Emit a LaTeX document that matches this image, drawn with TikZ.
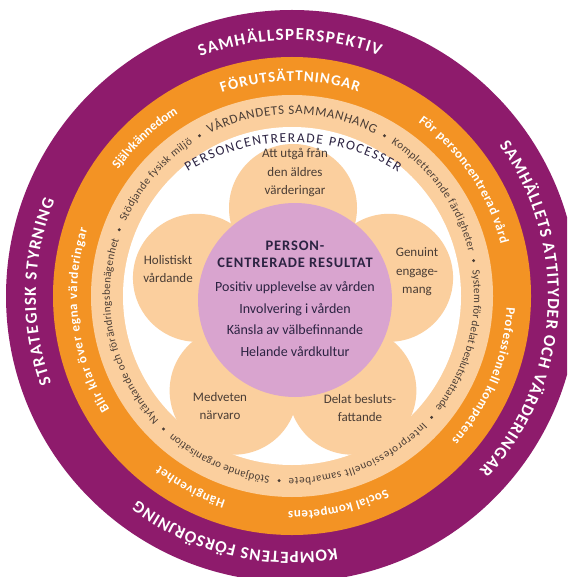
\documentclass[tikz,border=0pt]{standalone}
\usepackage{fontspec}
\setmainfont{Carlito}
\usepackage{xcolor}
\definecolor{cRing}{HTML}{8E1B6C}
\definecolor{cBand}{HTML}{F39324}
\definecolor{cPeach}{HTML}{FBCF9E}
\definecolor{cCore}{HTML}{D9A4CF}
\definecolor{cInk}{HTML}{4A3D35}
\definecolor{cNavy}{HTML}{2C2342}
\usepackage{tikz}
\usetikzlibrary{calc,decorations.text}
\newcommand\fRing{\fontsize{17}{17}\selectfont\bfseries}
\newcommand\fBand{\fontsize{13}{13}\selectfont\bfseries}
\newcommand\fBandCap{\fontsize{15}{15}\selectfont\bfseries}
\newcommand\fPeach{\fontsize{11}{11}\selectfont}
\newcommand\fPeachCap{\fontsize{13}{13}\selectfont}
\newcommand\fProc{\fontsize{13.5}{13.5}\selectfont}
\tikzset{
  ring-text/.style 2 args={decorate,decoration={text along path,
    text align={fit to path},text color=#1,text={#2}}},
  petal/.style={circle,fill=cPeach,minimum size=128pt,inner sep=0pt},
  core/.style={circle,fill=cCore,minimum size=194pt,inner sep=0pt},
  petal-label/.style={align=center,text=cInk,font=\fontsize{13}{18.5}\selectfont},
  core-title/.style={align=center,text=cNavy,
    font=\fontsize{14.5}{17}\selectfont\bfseries\addfontfeature{LetterSpace=6}},
  core-label/.style={align=center,text=cNavy,font=\fontsize{14}{21.5}\selectfont},
}
\begin{document}
\begin{tikzpicture}[x=1pt,y=1pt]
  \clip (0,0) rectangle (567,-577);
  \fill[white] (0,0) rectangle (567,-577);
  \coordinate (c) at (292,-296);
  \coordinate (bloom) at (293,-309);
  \coordinate (proc) at (293,-342);

  % rings, outside in
  \fill[cRing]  (c) circle[radius=286pt];
  \fill[cBand]  (c) circle[radius=239pt];
  \fill[cPeach] (c) circle[radius=201pt];
  \fill[white]  (c) circle[radius=169pt];

  % outer ring
  \path[ring-text={white}{|\fRing|SAMHÄLLSPERSPEKTIV}]
    ($(c)+(111:256pt)$) arc[start angle=111,end angle=70,radius=256pt];
  \path[ring-text={white}{|\fRing|SAMHÄLLETS ATTITYDER OCH VÄRDERINGAR}]
    ($(c)+(36:256pt)$) arc[start angle=36,end angle=-43,radius=256pt];
  \path[ring-text={white}{|\fRing|KOMPETENS FÖRSÖRJNING}]
    ($(c)+(280:256pt)$) arc[start angle=280,end angle=233,radius=256pt];
  \path[ring-text={white}{|\fRing|STRATEGISK STYRNING}]
    ($(c)+(200:256pt)$) arc[start angle=200,end angle=158,radius=256pt];

  % orange band
  \path[ring-text={white}{|\fBandCap|FÖRUTSÄTTNINGAR}]
    ($(c)+(109:215pt)$) arc[start angle=109,end angle=72,radius=215pt];
  \path[ring-text={white}{|\fBand|Självkännedom}]
    ($(c)+(144:215pt)$) arc[start angle=144,end angle=122,radius=215pt];
  \path[ring-text={white}{|\fBand|För personcentrerad vård}]
    ($(c)+(54:215pt)$) arc[start angle=54,end angle=14,radius=215pt];
  \path[ring-text={white}{|\fBand|Professionell kompetens}]
    ($(c)+(-3:215pt)$) arc[start angle=-3,end angle=-42,radius=215pt];
  \path[ring-text={white}{|\fBand|Social kompetens}]
    ($(c)+(-64:215pt)$) arc[start angle=-64,end angle=-91,radius=215pt];
  \path[ring-text={white}{|\fBand|Hängivenhet}]
    ($(c)+(252:215pt)$) arc[start angle=252,end angle=232,radius=215pt];
  \path[ring-text={white}{|\fBand|Blir klar över egna värderingar}]
    ($(c)+(212:215pt)$) arc[start angle=212,end angle=162,radius=215pt];

  % peach band
  \path[ring-text={cInk}{|\fPeach|Nytänkande och förändringsbenägenhet}]
    ($(c)+(223:182pt)$) arc[start angle=223,end angle=162,radius=182pt];
  \path[ring-text={cInk}{|\fPeach|Stödjande fysisk miljö}]
    ($(c)+(156:182pt)$) arc[start angle=156,end angle=123,radius=182pt];
  \path[ring-text={cInk}{|\fPeachCap|VÅRDANDETS SAMMANHANG}]
    ($(c)+(117:182pt)$) arc[start angle=117,end angle=63,radius=182pt];
  \path[ring-text={cInk}{|\fPeach|Kompletterande färdigheter}]
    ($(c)+(57:182pt)$) arc[start angle=57,end angle=14,radius=182pt];
  \path[ring-text={cInk}{|\fPeach|System för delat beslutsfattande}]
    ($(c)+(8:182pt)$) arc[start angle=8,end angle=-38,radius=182pt];
  \path[ring-text={cInk}{|\fPeach|Interprofessionellt samarbete}]
    ($(c)+(-44:182pt)$) arc[start angle=-44,end angle=-91,radius=182pt];
  \path[ring-text={cInk}{|\fPeach|Stödjande organisation}]
    ($(c)+(-97:182pt)$) arc[start angle=-97,end angle=-131,radius=182pt];
  \foreach \a in {226,159,120,60,11,-41,-94}
    \fill[cInk] ($(c)+(\a:185pt)$) circle[radius=1.6pt];

  \path[ring-text={cNavy}{|\fProc|PERSONCENTRERADE PROCESSER}]
    ($(proc)+(121.7:200pt)$) arc[start angle=121.7,end angle=58.3,radius=200pt];

  % flower
  \foreach \a/\n in {90/top,162/left,18/right,234/lowleft,306/lowright}
    \node[petal] (petal-\n) at ($(bloom)+(\a:101pt)$) {};
  \node[core] (core-disc) at (295,-300) {};

  \node[petal-label] (l-top) at (295,-173) {Att utgå från\\den äldres\\värderingar};
  \node[petal-label] (l-left) at (168,-269) {Holistiskt\\vårdande};
  \node[petal-label] (l-right) at (417,-272) {Genuint\\engage-\\mang};
  \node[petal-label] (l-lowleft) at (220,-406) {Medveten\\närvaro};
  \node[petal-label] (l-lowright) at (360,-408) {Delat besluts-\\fattande};

  \node[core-title] (results-title) at (295,-254) {PERSON-\\CENTRERADE RESULTAT};
  \node[core-label] (results) at (295,-319) {Positiv upplevelse av vården\\
    Involvering i vården\\Känsla av välbefinnande\\Helande vårdkultur};
\end{tikzpicture}
\end{document}
